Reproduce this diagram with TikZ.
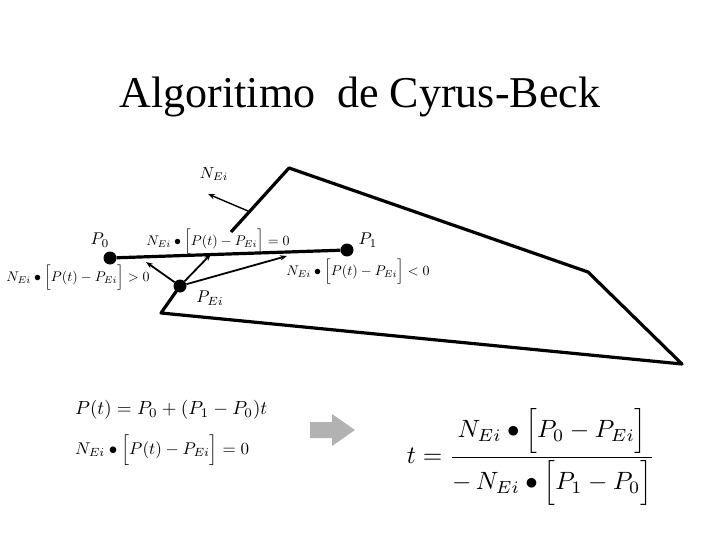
\documentclass[tikz,border=0pt]{standalone}
\usepackage{fontspec}
\setmainfont{Liberation Serif}
\usetikzlibrary{arrows.meta}
\begin{document}
\begin{tikzpicture}[x=1pt,y=-1pt,
  edge/.style={line width=3.2pt},
  vec/.style={line width=1.8pt,-{Stealth[length=7pt]}},
  pt/.style={circle,fill=black,inner sep=0pt,minimum size=13pt},
  lab/.style={inner sep=1pt}]
\useasboundingbox (0,0) rectangle (720,540);
\node (title) at (360,97) {\fontsize{44}{46}\selectfont Algoritimo\ \ de Cyrus-Beck};
% polygon
\coordinate (A) at (231,232);
\coordinate (B) at (289,168);
\coordinate (C) at (588,272);
\coordinate (D) at (682,364);
\coordinate (E) at (161,313);
\draw[edge,line join=round] (A) -- (B) -- (C) -- (D) -- (E) -- (180,286);
% points
\node[pt] (p0) at (110,258) {};
\node[pt] (p1) at (347,250) {};
\node[pt] (pe) at (180,286) {};
\draw[edge] (p0) -- (p1);
\coordinate (q1) at (146,262);
\coordinate (q2) at (211,254);
\coordinate (q3) at (287,256);
\draw[vec] (pe) -- (q1);
\draw[vec] (pe) -- (q2);
\draw[vec] (pe) -- (q3);
\coordinate (n0) at (248,211);
\coordinate (n1) at (208,194);
\draw[vec,line width=1.4pt] (n0) -- (n1);
% labels
\node[lab] (ln) at (214,174) {\scalebox{1.6}{$N_{Ei}$}};
\node[lab] (l0) at (100,240) {\scalebox{1.7}{$P_0$}};
\node[lab] (l1) at (368,240) {\scalebox{1.7}{$P_1$}};
\node[lab] (le) at (210,298) {\scalebox{1.7}{$P_{Ei}$}};
\node[lab] (leq) at (218,242) {\scalebox{1.4}{$N_{Ei}\bullet\Bigl[P(t)-P_{Ei}\Bigr]=0$}};
\node[lab] (lgt) at (78,278) {\scalebox{1.4}{$N_{Ei}\bullet\Bigl[P(t)-P_{Ei}\Bigr]>0$}};
\node[lab] (llt) at (358,272) {\scalebox{1.4}{$N_{Ei}\bullet\Bigl[P(t)-P_{Ei}\Bigr]<0$}};
% formulas
\node[anchor=west,inner sep=0pt] (f1) at (75,410) {\scalebox{1.9}{$P(t)=P_0+(P_1-P_0)t$}};
\node[anchor=west,inner sep=0pt] (f2) at (75,450) {\scalebox{1.7}{$N_{Ei}\bullet\Bigl[P(t)-P_{Ei}\Bigr]=0$}};
\fill[gray!60] (310,422) -- (332,422) -- (332,414) -- (355,430) -- (332,446) -- (332,438) -- (310,438) -- cycle;
\node (frac) at (531,457) {\scalebox{2.5}{$\displaystyle t=\frac{N_{Ei}\bullet\Bigl[P_0-P_{Ei}\Bigr]}{-\,N_{Ei}\bullet\Bigl[P_1-P_0\Bigr]}$}};
\end{tikzpicture}
\end{document}
